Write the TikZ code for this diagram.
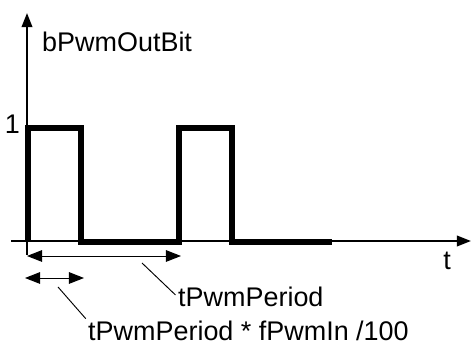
\documentclass[tikz,border=0pt]{standalone}
\usepackage{fontspec}
\setmainfont{Liberation Sans}
\usetikzlibrary{arrows.meta}
\begin{document}
\begin{tikzpicture}[x=0.03cm, y=-0.03cm,
axis/.style={line width=1.7pt, -{Triangle[length=12pt, width=9pt]}},
signal/.style={line width=5pt, line join=miter},
dim/.style={line width=0.8pt, {Triangle[length=13pt, width=10pt]}-{Triangle[length=13pt, width=10pt]}},
leader/.style={line width=0.8pt, shorten >=3pt},
lbl/.style={font=\fontsize{23}{27}\selectfont, inner sep=0pt}
]
\useasboundingbox (0,0) rectangle (471,347);
\coordinate (ybot) at (27,255);
\coordinate (ytop) at (27,13);
\coordinate (xleft) at (11,241);
\coordinate (xright) at (471,241);
\coordinate (perA) at (27,256);
\coordinate (perB) at (181,256);
\coordinate (dutyA) at (25,278);
\coordinate (dutyB) at (84,278);
\coordinate (perlead) at (142,263);
\coordinate (dutylead) at (58,287);
\node[lbl, anchor=base west] (ylabel) at (42,52) {bPwmOutBit};
\node[lbl, anchor=base east] (one) at (20,134) {1};
\node[lbl, anchor=base] (tlabel) at (447,270) {t};
\node[lbl, anchor=base west] (perlabel) at (178,307) {tPwmPeriod};
\node[lbl, anchor=base west] (dutylabel) at (88,341) {tPwmPeriod * fPwmIn /100};
\draw[axis] (ybot) -- (ytop);
\draw[axis] (xleft) -- (xright);
\draw[signal] (28,241) -- (28,128) -- (81,128) -- (81,242) -- (179,242) -- (179,128) -- (232,128) -- (232,242) -- (332,242);
\draw[dim] (perA) -- (perB);
\draw[dim] (dutyA) -- (dutyB);
\draw[leader] (perlead) -- (perlabel.west);
\draw[leader] (dutylead) -- (dutylabel.north west);
\end{tikzpicture}
\end{document}
